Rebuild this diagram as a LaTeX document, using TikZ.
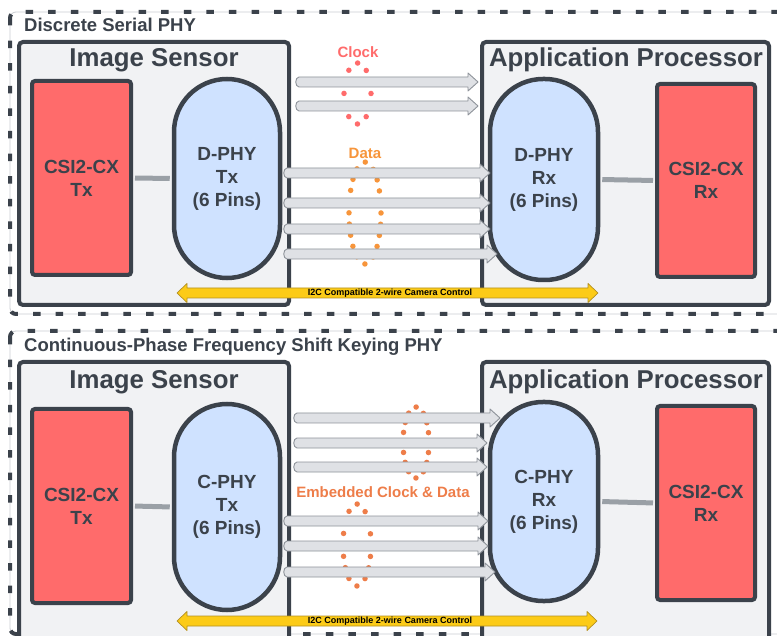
\documentclass[tikz,border=0pt]{standalone}
\usepackage{fontspec}
\setmainfont{Liberation Sans}
\usetikzlibrary{calc}

\definecolor{ink}{HTML}{3B424B}
\definecolor{hostfill}{HTML}{F1F2F4}
\definecolor{csired}{HTML}{FF6B6B}
\definecolor{phyblue}{HTML}{CFE2FF}
\definecolor{linkgray}{HTML}{9AA0A6}
\definecolor{lanefill}{HTML}{DFE1E5}
\definecolor{laneedge}{HTML}{8E939A}
\definecolor{clockred}{HTML}{FF6B6B}
\definecolor{dataorange}{HTML}{F7953B}
\definecolor{embedorange}{HTML}{EE7D49}
\definecolor{ctrlyellow}{HTML}{FCCB17}
\definecolor{ctrledge}{HTML}{B39022}
\definecolor{guide}{HTML}{CBCED2}

\tikzset{
  hostbox/.style={draw=ink, fill=hostfill, line width=4pt, rounded corners=4pt, inner sep=0pt},
  hosttitle/.style={text=ink, font=\bfseries\fontsize{25.8}{30}\selectfont},
  paneltitle/.style={text=ink, font=\bfseries\fontsize{18.5}{22}\selectfont, anchor=west, inner sep=0pt},
  csibox/.style={draw=ink, fill=csired, line width=4pt, rounded corners=3pt, align=center,
    text=ink, font=\bfseries\fontsize{19}{23}\selectfont, inner sep=0pt},
  phybox/.style={draw=ink, fill=phyblue, line width=4.5pt, rounded corners=53pt, align=center,
    text=ink, font=\bfseries\fontsize{19}{23}\selectfont, inner sep=0pt},
  link/.style={draw=linkgray, line width=5pt, shorten <=2pt, shorten >=2pt},
  lane/.style={fill=lanefill, draw=laneedge, line width=0.9pt, line join=round},
  ctrl/.style={fill=ctrlyellow, draw=ctrledge, line width=0.7pt, line join=round},
  ctrllabel/.style={font=\bfseries\fontsize{9}{10}\selectfont, text=black, inner sep=0pt},
  flowlabel/.style={font=\bfseries\fontsize{15}{18}\selectfont, inner sep=0pt},
  panelguide/.style={draw=guide, line width=0.8pt, rounded corners=6pt},
  paneldash/.style={draw=ink, line width=4pt, rounded corners=6pt, dash pattern=on 7.5pt off 15.1pt},
  beads/.style={line width=5.5pt, line cap=round}
}

% grey lane arrow from coordinate #1 (tail) to coordinate #2 (tip)
\newcommand{\lanearrow}[2]{%
  \filldraw[lane] ($(#1)+(4,-5)$) -- ($(#2)+(-10,-5)$) -- ($(#2)+(-10,-9)$) -- (#2)
    -- ($(#2)+(-10,9)$) -- ($(#2)+(-10,5)$) -- ($(#1)+(4,5)$)
    to[out=180,in=180,looseness=1.1] ($(#1)+(4,-5)$) -- cycle;}

% yellow two-headed control arrow between coordinates #1 and #2
\newcommand{\ctrlarrow}[2]{%
  \filldraw[ctrl] (#1) -- ($(#1)+(10,-9.5)$) -- ($(#1)+(10,-5)$) -- ($(#2)+(-10,-5)$)
    -- ($(#2)+(-10,-9.5)$) -- (#2) -- ($(#2)+(-10,9.5)$) -- ($(#2)+(-10,5)$)
    -- ($(#1)+(10,5)$) -- ($(#1)+(10,9.5)$) -- cycle;}

\begin{document}
\begin{tikzpicture}[x=1pt, y=-1pt]
\useasboundingbox (0,0) rectangle (777,636);
\fill[white] (0,0) rectangle (777,636);
\clip (0,0) rectangle (777,636);

% ---------------- panel outlines ----------------
\draw[panelguide] (10,12) rectangle (800,314);
\draw[paneldash] (10,12) rectangle (800,314);
\draw[panelguide] (10,331) rectangle (800,634);
\draw[paneldash] (10,331) rectangle (800,634);

\node[paneltitle] (dsttl) at (24,25) {Discrete Serial PHY};
\node[paneltitle] (cpttl) at (24,347) {Continuous-Phase Frequency Shift Keying PHY};

% ---------------- D-PHY panel ----------------
\node[hostbox, minimum width=270pt, minimum height=263pt] (dsens) at (154,173.5) {};
\node[hostbox, minimum width=287pt, minimum height=263pt] (dproc) at (625.5,173.5) {};
\node[hosttitle] (dsensT) at (154,60) {Image Sensor};
\node[hosttitle] (dprocT) at (626,60) {Application Processor};

\node[csibox, minimum width=99pt, minimum height=194pt] (dcsitx) at (81.5,178) {CSI2-CX\\Tx};
\node[phybox, minimum width=106pt, minimum height=199pt] (dphytx) at (227,178.5) {D-PHY\\Tx\\(6 Pins)};
\node[phybox, minimum width=108pt, minimum height=201pt] (dphyrx) at (544,179.5) {D-PHY\\Rx\\(6 Pins)};
\node[csibox, minimum width=98pt, minimum height=193pt] (dcsirx) at (706,180.5) {CSI2-CX\\Rx};

\draw[link] (dcsitx.east) -- (dphytx.west);
\draw[link] (dphyrx.east) -- (dcsirx.west);

\node[flowlabel, text=clockred] (clkT) at (358,52) {Clock};
\node[flowlabel, text=dataorange] (datT) at (365,153) {Data};

\draw[beads, draw=clockred, dash pattern=on 0pt off 11.95pt]
  (357.5,93.5) ellipse [x radius=13.5, y radius=30.5];
\draw[beads, draw=dataorange, dash pattern=on 0pt off 11.26pt]
  (365,213) ellipse [x radius=16, y radius=51];

\coordinate (ck1a) at (295,82);  \coordinate (ck1b) at (478,82);
\coordinate (ck2a) at (295,106); \coordinate (ck2b) at (478,106);
\coordinate (dl1a) at (283,173); \coordinate (dl1b) at (490,173);
\coordinate (dl2a) at (283,203); \coordinate (dl2b) at (490,203);
\coordinate (dl3a) at (283,229); \coordinate (dl3b) at (490,229);
\coordinate (dl4a) at (283,254); \coordinate (dl4b) at (497,254);
\lanearrow{ck1a}{ck1b}
\lanearrow{ck2a}{ck2b}
\lanearrow{dl1a}{dl1b}
\lanearrow{dl2a}{dl2b}
\lanearrow{dl3a}{dl3b}
\lanearrow{dl4a}{dl4b}

\coordinate (dctlL) at (177,293); \coordinate (dctlR) at (598,293);
\ctrlarrow{dctlL}{dctlR}
\node[ctrllabel] (dctlT) at (390,293.5) {I2C Compatible 2-wire Camera Control};

% ---------------- C-PHY panel ----------------
\node[hostbox, minimum width=270pt, minimum height=300pt] (csens) at (154,512) {};
\node[hostbox, minimum width=287pt, minimum height=300pt] (cproc) at (625.5,512) {};
\node[hosttitle] (csensT) at (154,382) {Image Sensor};
\node[hosttitle] (cprocT) at (626,382) {Application Processor};

\node[csibox, minimum width=99pt, minimum height=194pt] (ccsitx) at (81.5,506) {CSI2-CX\\Tx};
\node[phybox, minimum width=106pt, minimum height=206pt] (cphytx) at (227,507) {C-PHY\\Tx\\(6 Pins)};
\node[phybox, minimum width=108pt, minimum height=199pt] (cphyrx) at (544,501.5) {C-PHY\\Rx\\(6 Pins)};
\node[csibox, minimum width=98pt, minimum height=194pt] (ccsirx) at (706,503) {CSI2-CX\\Rx};

\draw[link] (ccsitx.east) -- (cphytx.west);
\draw[link] (cphyrx.east) -- (ccsirx.west);

\node[flowlabel, text=embedorange] (embT) at (383,492) {Embedded Clock \& Data};

\draw[beads, draw=embedorange, dash pattern=on 0pt off 10.04pt]
  (416,442.5) ellipse [x radius=13, y radius=35.5];
\draw[beads, draw=embedorange, dash pattern=on 0pt off 11.46pt]
  (357,545) ellipse [x radius=14, y radius=41];

\coordinate (cl1a) at (293,418); \coordinate (cl1b) at (500,418);
\coordinate (cl2a) at (293,443); \coordinate (cl2b) at (487,443);
\coordinate (cl3a) at (293,467); \coordinate (cl3b) at (487,467);
\coordinate (cl4a) at (283,521); \coordinate (cl4b) at (488,521);
\coordinate (cl5a) at (283,546); \coordinate (cl5b) at (488,546);
\coordinate (cl6a) at (283,572); \coordinate (cl6b) at (495,572);
\lanearrow{cl1a}{cl1b}
\lanearrow{cl2a}{cl2b}
\lanearrow{cl3a}{cl3b}
\lanearrow{cl4a}{cl4b}
\lanearrow{cl5a}{cl5b}
\lanearrow{cl6a}{cl6b}

\coordinate (cctlL) at (177,621); \coordinate (cctlR) at (597,621);
\ctrlarrow{cctlL}{cctlR}
\node[ctrllabel] (cctlT) at (390,621.5) {I2C Compatible 2-wire Camera Control};
\end{tikzpicture}
\end{document}
